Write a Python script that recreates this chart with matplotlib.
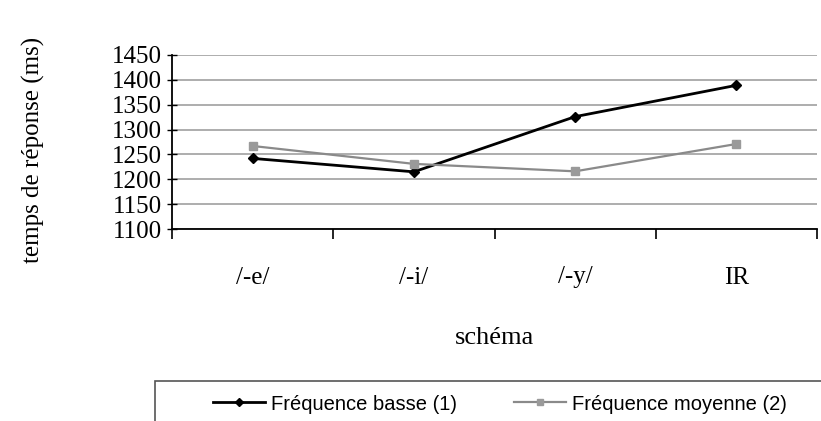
import matplotlib
matplotlib.use("Agg")
import matplotlib.pyplot as plt
from matplotlib.patches import Rectangle
from matplotlib.ticker import FixedLocator

# temps de réponse moyens par schéma
schemas = ["/-e/", "/-i/", "/-y/", "IR"]
freq_basse = [1242, 1215, 1326, 1389]
freq_moyenne = [1267, 1231, 1216, 1271]
y_ticks = [1100, 1150, 1200, 1250, 1300, 1350, 1400, 1450]

serif = ["Liberation Serif", "DejaVu Serif"]
sans = ["Liberation Sans", "DejaVu Sans"]

fig = plt.figure(figsize=(8.21, 4.21), dpi=100)
ax = fig.add_axes([172 / 821, 1 - 229 / 421, 645 / 821, 174 / 421])

x = [i + 0.5 for i in range(len(schemas))]
ax.plot(x, freq_basse, color="black", lw=2.0, marker="D", ms=5.5,
        label="Fréquence basse (1)", zorder=3)
ax.plot(x, freq_moyenne, color="#8a8a8a", lw=1.6, marker="s", ms=6,
        mfc="#9a9a9a", mec="#9a9a9a", label="Fréquence moyenne (2)", zorder=3)

ax.set_xlim(0, len(schemas))
ax.set_ylim(y_ticks[0], y_ticks[-1])
ax.set_yticks(y_ticks)
ax.set_yticklabels([str(v) for v in y_ticks], fontfamily=serif, fontsize=18)
ax.yaxis.grid(True, color="#a0a0a0", lw=1.2)
ax.set_axisbelow(True)

ax.set_xticks(x)
ax.set_xticklabels(schemas, fontfamily=serif, fontsize=18)
ax.xaxis.set_minor_locator(FixedLocator(range(len(schemas) + 1)))
ax.tick_params(axis="x", which="major", length=0, pad=27)
ax.tick_params(axis="x", which="minor", length=7, width=1.2, direction="out")
ax.tick_params(axis="y", length=7, width=1.0, direction="inout", pad=4)

for side in ("top", "right"):
    ax.spines[side].set_visible(False)
ax.spines["left"].set_linewidth(1.3)
ax.spines["bottom"].set_linewidth(1.3)

ax.set_xlabel("schéma", fontfamily=serif, fontsize=19, labelpad=28)
ax.set_ylabel("temps de réponse (ms)", fontfamily=serif, fontsize=18)
ax.yaxis.set_label_coords(-0.197, 0.454)

# cadre de la légende, coupé par le bord de la figure
fig.patches.append(Rectangle((155 / 821, -0.1), 1.0, 1 - 381 / 421 + 0.1,
                             transform=fig.transFigure, fill=False,
                             edgecolor="#555555", lw=1.2))
leg = fig.legend(loc="center", bbox_to_anchor=(500 / 821, 1 - 404 / 421), ncol=2,
                 frameon=False, handlelength=2.6, columnspacing=2.8,
                 handletextpad=0.3, markerscale=0.8,
                 prop={"family": sans, "size": 14.5})

fig.savefig("out.png", dpi=100)
